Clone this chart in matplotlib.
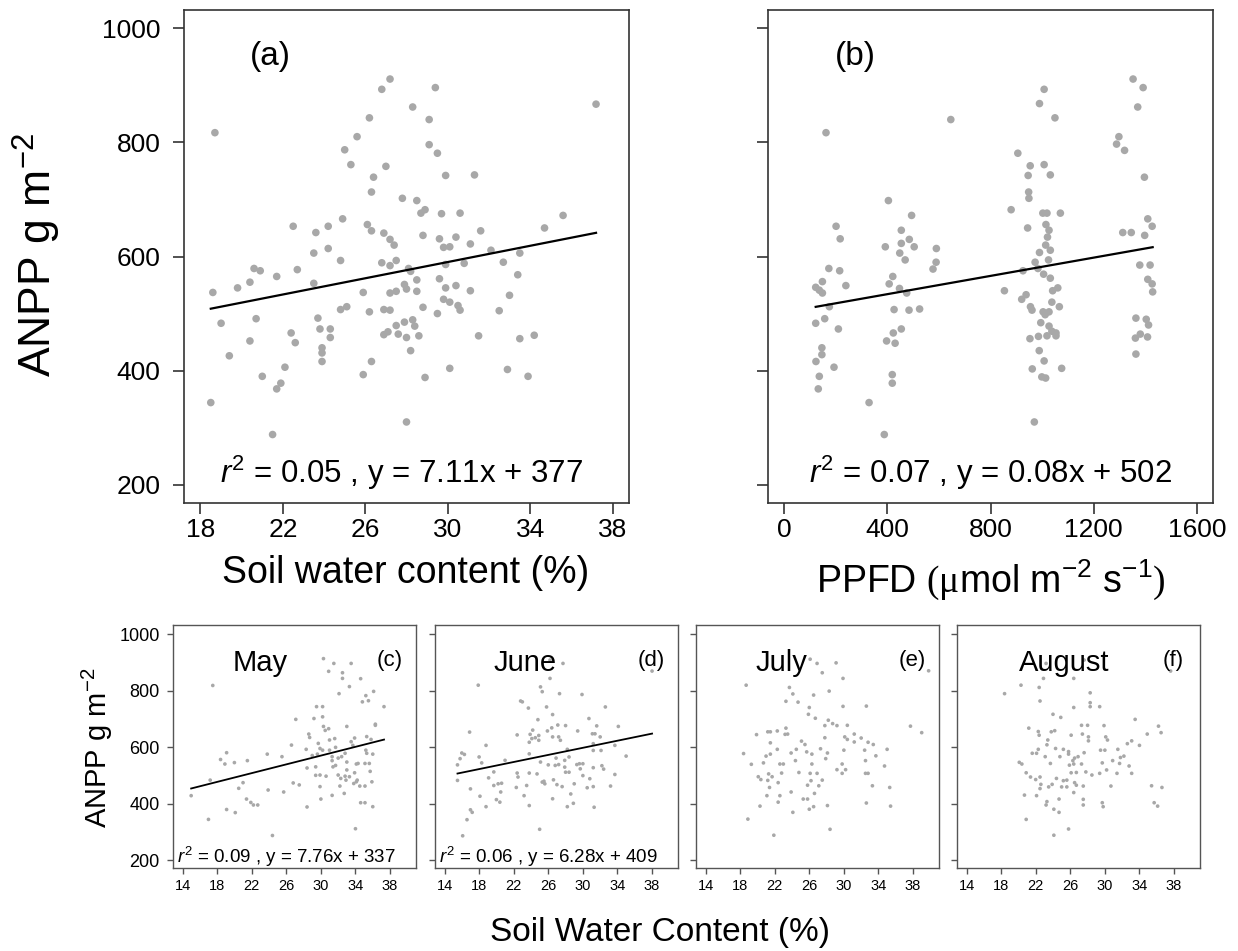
import numpy as np
import matplotlib
matplotlib.use("Agg")
import matplotlib.pyplot as plt

plt.rcParams['font.family'] = ['Liberation Sans', 'DejaVu Sans']
plt.rcParams['mathtext.fontset'] = 'custom'
plt.rcParams['mathtext.rm'] = 'Liberation Sans'
plt.rcParams['mathtext.it'] = 'Liberation Sans:italic'
plt.rcParams['mathtext.sf'] = 'Liberation Serif'

# (a) ANPP vs soil water content
a_swc = [37.2, 18.7, 27.2, 26.8, 29.4, 28.3, 26.2, 29.1, 25.6, 29.1,
         25.0, 29.5, 25.3, 27.0, 29.9, 31.3, 26.4, 26.3, 27.8, 28.5,
         28.9, 28.7, 29.7, 30.6, 35.6, 24.9, 22.5, 24.2, 26.1, 26.3,
         23.6, 26.9, 31.6, 34.7, 27.2, 27.4, 28.8, 29.6, 30.4, 31.1,
         24.2, 29.8, 30.1, 23.5, 32.1, 33.5, 24.8, 27.5, 26.8, 27.2,
         32.7, 29.9, 30.8, 28.1, 20.6, 20.9, 22.7, 21.7, 28.2, 33.4,
         29.6, 28.5, 20.4, 23.5, 19.8, 18.6, 27.9, 28.0, 25.9, 27.2,
         27.5, 28.5, 29.9, 30.4, 31.1, 33.0, 29.8, 30.1, 30.5, 30.6,
         28.8, 24.8, 25.1, 26.2, 26.9, 27.2, 29.5, 32.5, 23.7, 20.7,
         19.0, 23.8, 24.3, 27.5, 27.9, 28.3, 28.4, 22.4, 27.1, 26.9,
         27.6, 28.0, 28.6, 31.5, 34.2, 24.3, 33.5, 20.4, 22.6, 23.9,
         23.9, 23.9, 28.2, 19.4, 26.3, 22.1, 30.1, 32.9, 25.9, 21.0,
         28.9, 33.9, 21.9, 21.7, 18.5, 28.0, 21.5]
a_anpp = [867, 817, 911, 893, 896, 862, 843, 840, 810, 796,
          787, 781, 761, 758, 742, 743, 739, 713, 702, 698,
          682, 676, 675, 676, 672, 666, 653, 653, 656, 645,
          642, 641, 645, 650, 630, 620, 637, 631, 634, 622,
          614, 616, 617, 606, 611, 606, 593, 593, 589, 584,
          590, 586, 588, 579, 579, 575, 577, 565, 574, 568,
          561, 559, 555, 553, 545, 537, 551, 543, 537, 536,
          539, 539, 545, 549, 540, 532, 525, 520, 514, 506,
          511, 507, 512, 503, 507, 506, 500, 505, 492, 491,
          483, 473, 473, 479, 485, 489, 478, 466, 468, 463,
          464, 458, 461, 461, 462, 458, 456, 452, 449, 440,
          431, 416, 435, 426, 416, 406, 404, 402, 393, 390,
          388, 390, 378, 368, 344, 310, 288]

# (b) ANPP vs PPFD
b_ppfd = [162, 646, 1008, 990, 1050, 1353, 1392, 1371, 1298, 1289,
          1320, 906, 954, 1008, 946, 1032, 1397, 948, 949, 404,
          880, 1003, 1019, 1071, 494, 1410, 1427, 201, 944, 1015,
          1027, 454, 1313, 1346, 1398, 217, 1021, 485, 454, 1014,
          392, 504, 590, 1032, 448, 990, 469, 589, 973, 1025,
          1379, 1419, 577, 173, 215, 926, 984, 1006, 1032, 421,
          1410, 1427, 148, 122, 136, 148, 239, 407, 447, 475,
          854, 1061, 1041, 1429, 938, 921, 175, 1038, 1067, 955,
          961, 426, 484, 525, 1004, 1027, 1012, 1364, 1404, 1413,
          122, 157, 995, 1027, 1038, 1054, 210, 454, 423, 953,
          986, 1019, 1054, 1362, 1381, 1409, 397, 430, 146, 146,
          123, 193, 989, 1008, 1364, 136, 132, 419, 419, 962,
          999, 1014, 1076, 329, 388, 970]
b_anpp = [817, 840, 893, 868, 843, 911, 896, 862, 810, 797,
          786, 781, 759, 761, 742, 743, 739, 713, 702, 698,
          682, 676, 676, 676, 672, 666, 653, 653, 650, 656,
          646, 646, 642, 642, 637, 631, 634, 630, 623, 620,
          617, 617, 614, 611, 606, 607, 594, 590, 590, 594,
          585, 585, 578, 579, 575, 575, 579, 569, 562, 565,
          560, 552, 556, 546, 541, 536, 549, 552, 544, 536,
          540, 545, 540, 538, 533, 525, 512, 520, 512, 512,
          506, 507, 506, 508, 503, 503, 498, 492, 490, 480,
          483, 491, 484, 478, 469, 466, 473, 473, 466, 456,
          460, 461, 461, 457, 464, 459, 452, 448, 440, 428,
          416, 406, 435, 417, 429, 390, 368, 393, 378, 403,
          389, 387, 404, 344, 288, 310]

# (c) May
c_swc = [15.0, 17.0, 17.5, 17.2, 18.4, 18.9, 19.1, 19.1, 20.0, 20.1,
         20.5, 21.0, 21.5, 21.4, 21.9, 22.2, 22.7, 23.8, 23.9, 24.4,
         25.5, 25.7, 26.6, 26.8, 27.1, 27.5, 28.4, 28.4, 28.6, 28.7,
         29.2, 29.4, 29.5, 29.7, 29.9, 29.4, 29.9, 30.2, 30.3, 30.2,
         30.3, 29.9, 30.0, 30.5, 30.6, 30.9, 31.0, 31.0, 31.3, 31.3,
         31.5, 30.9, 31.6, 31.7, 31.7, 32.0, 32.1, 32.2, 32.3, 32.5,
         32.5, 32.7, 32.8, 33.0, 32.8, 32.9, 33.0, 33.3, 33.3, 33.5,
         33.5, 33.7, 33.8, 33.9, 33.9, 34.0, 34.1, 34.2, 34.3, 34.5,
         34.6, 34.6, 34.8, 35.1, 35.1, 35.2, 35.1, 35.2, 35.3, 35.5,
         35.6, 35.7, 35.8, 35.9, 36.0, 36.0, 36.1, 36.3, 36.3, 37.3,
         29.0, 29.6, 31.3, 32.0, 32.4, 33.0, 34.1, 31.4, 30.2, 28.3,
         35.3]
c_anpp = [428, 344, 818, 483, 556, 540, 580, 379, 545, 368,
          454, 474, 552, 416, 404, 395, 395, 575, 448, 287,
          566, 441, 607, 473, 698, 466, 388, 526, 646, 634,
          701, 530, 743, 613, 595, 500, 501, 743, 913, 707,
          673, 460, 416, 659, 497, 665, 625, 589, 552, 429,
          896, 868, 630, 599, 535, 501, 789, 462, 489, 863,
          843, 436, 578, 673, 497, 483, 519, 495, 814, 896,
          619, 606, 471, 509, 632, 311, 540, 483, 542, 462,
          842, 403, 760, 403, 462, 782, 542, 589, 637, 764,
          542, 514, 627, 477, 389, 575, 797, 681, 677, 743,
          570, 575, 566, 561, 566, 547, 477, 530, 589, 592,
          578]

# (d) June
d_swc = [16.1, 16.6, 17.0, 17.2, 15.5, 15.5, 15.8, 16.0, 16.3, 16.9,
         17.0, 17.9, 18.0, 18.1, 18.3, 18.8, 18.8, 19.1, 19.7, 19.7,
         20.0, 20.2, 20.4, 20.5, 20.6, 21.0, 22.3, 22.4, 22.4, 22.5,
         22.8, 23.0, 23.2, 23.5, 23.7, 23.8, 23.8, 23.8, 23.9, 24.1,
         23.8, 24.2, 24.5, 24.7, 24.8, 24.9, 25.0, 24.9, 25.1, 25.3,
         25.1, 25.3, 25.5, 25.6, 25.8, 25.9, 26.0, 26.2, 26.2, 26.4,
         26.5, 26.5, 26.5, 26.6, 26.9, 27.0, 27.1, 27.2, 27.2, 27.3,
         27.4, 27.6, 27.7, 27.9, 28.0, 28.0, 28.2, 28.2, 28.4, 28.6,
         28.9, 29.0, 29.3, 29.4, 29.6, 29.9, 30.0, 30.0, 30.5, 30.7,
         30.8, 31.1, 31.2, 31.2, 31.2, 31.3, 31.4, 31.6, 32.0, 32.1,
         32.2, 32.4, 32.6, 33.2, 33.7, 33.7, 34.1, 35.0, 38.0, 27.9,
         28.4, 29.7, 31.2, 26.8]
d_anpp = [286, 343, 378, 369, 482, 537, 559, 579, 574, 653,
          452, 819, 565, 426, 544, 606, 389, 491, 512, 464,
          414, 470, 405, 441, 472, 553, 457, 643, 508, 494,
          763, 760, 428, 464, 738, 576, 508, 617, 645, 630,
          393, 660, 633, 505, 697, 641, 309, 624, 813, 796,
          547, 476, 479, 470, 742, 657, 537, 908, 843, 668,
          715, 636, 417, 484, 561, 467, 678, 636, 538, 789,
          624, 460, 896, 553, 676, 511, 389, 592, 565, 434,
          401, 470, 538, 657, 541, 786, 541, 499, 456, 701,
          488, 647, 527, 612, 460, 387, 647, 675, 636, 588,
          534, 522, 742, 462, 503, 606, 673, 568, 869, 529,
          511, 523, 588, 535]

# (e) July
e_swc = [18.7, 18.4, 18.9, 19.3, 19.9, 20.1, 20.3, 20.4, 20.7, 21.0,
         21.2, 21.3, 21.4, 21.5, 21.5, 21.2, 21.1, 21.5, 21.7, 21.9,
         22.3, 22.3, 22.4, 22.4, 22.6, 22.6, 22.8, 23.0, 23.2, 23.3,
         23.3, 23.5, 23.7, 23.9, 23.9, 24.1, 24.1, 24.4, 24.5, 24.7,
         24.8, 25.1, 25.3, 25.5, 25.7, 25.8, 25.8, 25.9, 26.0, 26.0,
         26.1, 26.1, 26.2, 26.3, 26.3, 26.5, 26.5, 26.6, 26.7, 26.9,
         26.9, 27.1, 27.3, 27.5, 27.5, 27.8, 27.8, 27.9, 28.1, 28.1,
         28.2, 28.3, 28.4, 28.7, 29.1, 29.2, 29.2, 29.8, 29.8, 29.9,
         29.9, 30.0, 30.1, 30.2, 30.4, 30.4, 31.2, 31.2, 32.0, 32.4,
         32.5, 32.5, 32.6, 32.6, 32.8, 32.8, 33.3, 33.4, 33.7, 34.7,
         35.0, 35.3, 35.4, 37.7, 39.0, 39.8]
e_anpp = [819, 577, 345, 539, 644, 495, 391, 485, 544, 568,
          654, 505, 457, 615, 654, 482, 428, 575, 495, 288,
          657, 592, 474, 405, 428, 540, 508, 540, 645, 762,
          667, 646, 811, 579, 441, 788, 369, 552, 592, 759,
          510, 621, 416, 609, 583, 416, 465, 716, 380, 740,
          911, 507, 481, 540, 575, 389, 784, 436, 702, 896,
          507, 463, 594, 863, 483, 676, 633, 559, 579, 393,
          695, 798, 309, 683, 898, 676, 520, 540, 507, 843,
          744, 589, 636, 520, 627, 677, 646, 618, 632, 589,
          552, 507, 745, 402, 507, 617, 463, 609, 569, 533,
          592, 457, 391, 674, 651, 870]

# (f) August
f_swc = [18.4, 20.3, 20.1, 20.4, 20.7, 20.9, 20.9, 21.2, 21.4, 21.6,
         22.0, 22.1, 22.1, 22.3, 22.3, 22.4, 22.4, 22.5, 22.5, 22.5,
         22.6, 22.9, 23.1, 23.2, 23.3, 23.3, 23.4, 23.5, 23.7, 23.8,
         23.9, 24.0, 24.1, 24.1, 24.2, 24.3, 24.4, 24.7, 24.7, 24.8,
         24.9, 25.0, 25.2, 25.2, 25.6, 25.6, 25.8, 25.8, 25.8, 25.9,
         26.1, 26.1, 26.3, 26.4, 26.4, 26.4, 26.5, 26.5, 26.4, 26.7,
         26.7, 26.9, 27.3, 27.4, 27.3, 27.5, 27.5, 27.5, 27.6, 27.8,
         28.0, 28.1, 28.1, 28.3, 28.3, 28.3, 28.5, 29.4, 29.4, 29.5,
         29.7, 29.7, 29.8, 29.9, 30.0, 30.1, 30.2, 30.3, 30.7, 30.9,
         31.4, 31.5, 31.7, 31.8, 32.2, 32.6, 32.8, 33.1, 33.1, 33.5,
         34.0, 34.9, 35.4, 35.7, 36.1, 36.2, 36.5, 36.6, 37.6, 23.2,
         27.6]
f_anpp = [789, 819, 546, 540, 430, 344, 509, 667, 494, 578,
          485, 578, 428, 592, 655, 642, 811, 763, 494, 453,
          468, 843, 566, 395, 407, 608, 625, 459, 542, 654,
          468, 716, 380, 288, 658, 595, 489, 416, 369, 566,
          705, 459, 592, 481, 483, 459, 584, 575, 310, 536,
          642, 509, 552, 439, 540, 843, 561, 474, 740, 510,
          465, 566, 677, 646, 540, 415, 395, 462, 580, 512,
          677, 622, 636, 792, 757, 743, 501, 507, 743, 589,
          544, 403, 389, 676, 589, 636, 519, 625, 462, 552,
          507, 592, 542, 563, 568, 612, 533, 622, 507, 698,
          606, 646, 463, 403, 391, 674, 651, 457, 869, 896,
          908]

# fitted lines (slope, intercept, r2) ; None = no significant fit
fits = {
    'a': (7.11, 377, '0.05'),
    'b': (0.08, 502, '0.07'),
    'c': (7.76, 337, '0.09'),
    'd': (6.28, 409, '0.06'),
    'e': None,
    'f': None,
}
months = ['May', 'June', 'July', 'August']
month_tags = ['c', 'd', 'e', 'f']
month_x = [0.36, 0.37, 0.35, 0.44]

dot_col = '#a8a8a8'
frame_col = '#333333'

fig = plt.figure(figsize=(12.38, 9.51), dpi=100)
W, H = 1238.0, 951.0

def px_axes(l, t, r, b):
    return fig.add_axes([l / W, 1 - b / H, (r - l) / W, (b - t) / H])

def style(ax, col, lw, tl, fs_x, fs_y, pad_x, pad_y):
    for s in ax.spines.values():
        s.set_color(col)
        s.set_linewidth(lw)
    ax.tick_params(axis='both', direction='out', length=tl, width=lw, color=col)
    ax.tick_params(axis='x', labelsize=fs_x, pad=pad_x)
    ax.tick_params(axis='y', labelsize=fs_y, pad=pad_y)

def add_fit(ax, x, key, lw):
    slope, icpt, r2 = fits[key]
    xs = np.array([min(x), max(x)])
    ax.plot(xs, slope * xs + icpt, color='black', lw=lw)

# ---- top panels ----
ax_a = px_axes(184, 10, 629, 503)
ax_a.scatter(a_swc, a_anpp, s=30, color=dot_col, edgecolors='none', zorder=2)
add_fit(ax_a, a_swc, 'a', 1.6)
ax_a.set_xlim(17.2, 38.8)
ax_a.set_ylim(168, 1032)
ax_a.set_xticks([18, 22, 26, 30, 34, 38])
ax_a.set_yticks([200, 400, 600, 800, 1000])
style(ax_a, frame_col, 1.2, 8, 19, 19, 3, 9)
ax_a.text(0.195, 0.905, '(a)', transform=ax_a.transAxes, fontsize=24, ha='center', va='center')
ax_a.text(0.49, 0.062, r'$r^2$ = %s , y = %sx + %d' % (fits['a'][2], fits['a'][0], fits['a'][1]),
          transform=ax_a.transAxes, fontsize=22.5, ha='center', va='center')

ax_b = px_axes(768, 10, 1213, 503)
ax_b.scatter(b_ppfd, b_anpp, s=30, color=dot_col, edgecolors='none', zorder=2)
add_fit(ax_b, b_ppfd, 'b', 1.6)
ax_b.set_xlim(-63, 1663)
ax_b.set_ylim(168, 1032)
ax_b.set_xticks([0, 400, 800, 1200, 1600])
ax_b.set_yticks([200, 400, 600, 800, 1000])
ax_b.set_yticklabels([])
style(ax_b, frame_col, 1.2, 8, 19, 19, 3, 9)
ax_b.text(0.196, 0.905, '(b)', transform=ax_b.transAxes, fontsize=24, ha='center', va='center')
ax_b.text(0.5, 0.062, r'$r^2$ = %s , y = %sx + %d' % (fits['b'][2], fits['b'][0], fits['b'][1]),
          transform=ax_b.transAxes, fontsize=22.5, ha='center', va='center')

fig.text(37 / W, 1 - 255 / H, r'ANPP g m$^{-2}$', rotation=90, fontsize=32,
         ha='center', va='center')
fig.text(406 / W, 1 - 573 / H, 'Soil water content (%)', fontsize=27, ha='center', va='center')
fig.text(991 / W, 1 - 580 / H, r'PPFD $\mathsf{(\mu}$mol m$^{-2}$ s$^{-1}\mathsf{)}$',
         fontsize=27, ha='center', va='center')

# ---- monthly panels ----
lefts = [173, 435, 696, 957]
month_data = [(c_swc, c_anpp), (d_swc, d_anpp), (e_swc, e_anpp), (f_swc, f_anpp)]
for i, (l, (mx, my)) in enumerate(zip(lefts, month_data)):
    ax = px_axes(l, 625, l + 243, 868)
    ax.scatter(mx, my, s=7, color=dot_col, edgecolors='none', zorder=2)
    key = month_tags[i]
    if fits[key] is not None:
        add_fit(ax, mx, key, 1.3)
        slope, icpt, r2 = fits[key]
        ax.text(0.015, 0.045, r'$r^2$ = %s , y = %sx + %d' % (r2, slope, icpt),
                transform=ax.transAxes, fontsize=13.5, ha='left', va='center')
    ax.set_xlim(12.9, 41)
    ax.set_ylim(172, 1032)
    ax.set_xticks([14, 18, 22, 26, 30, 34, 38])
    ax.set_yticks([200, 400, 600, 800, 1000])
    if i > 0:
        ax.set_yticklabels([])
    style(ax, '#555555', 1.0, 4.5, 10.5, 13, 3.5, 5)
    ax.text(month_x[i], 0.845, months[i], transform=ax.transAxes, fontsize=21,
            ha='center', va='center')
    ax.text(0.89, 0.855, '(%s)' % key, transform=ax.transAxes, fontsize=16,
            ha='center', va='center')

fig.text(97 / W, 1 - 748 / H, r'ANPP g m$^{-2}$', rotation=90, fontsize=21,
         ha='center', va='center')
fig.text(660 / W, 1 - 933 / H, 'Soil Water Content (%)', fontsize=24, ha='center', va='center')

fig.savefig('out.png', dpi=100)
